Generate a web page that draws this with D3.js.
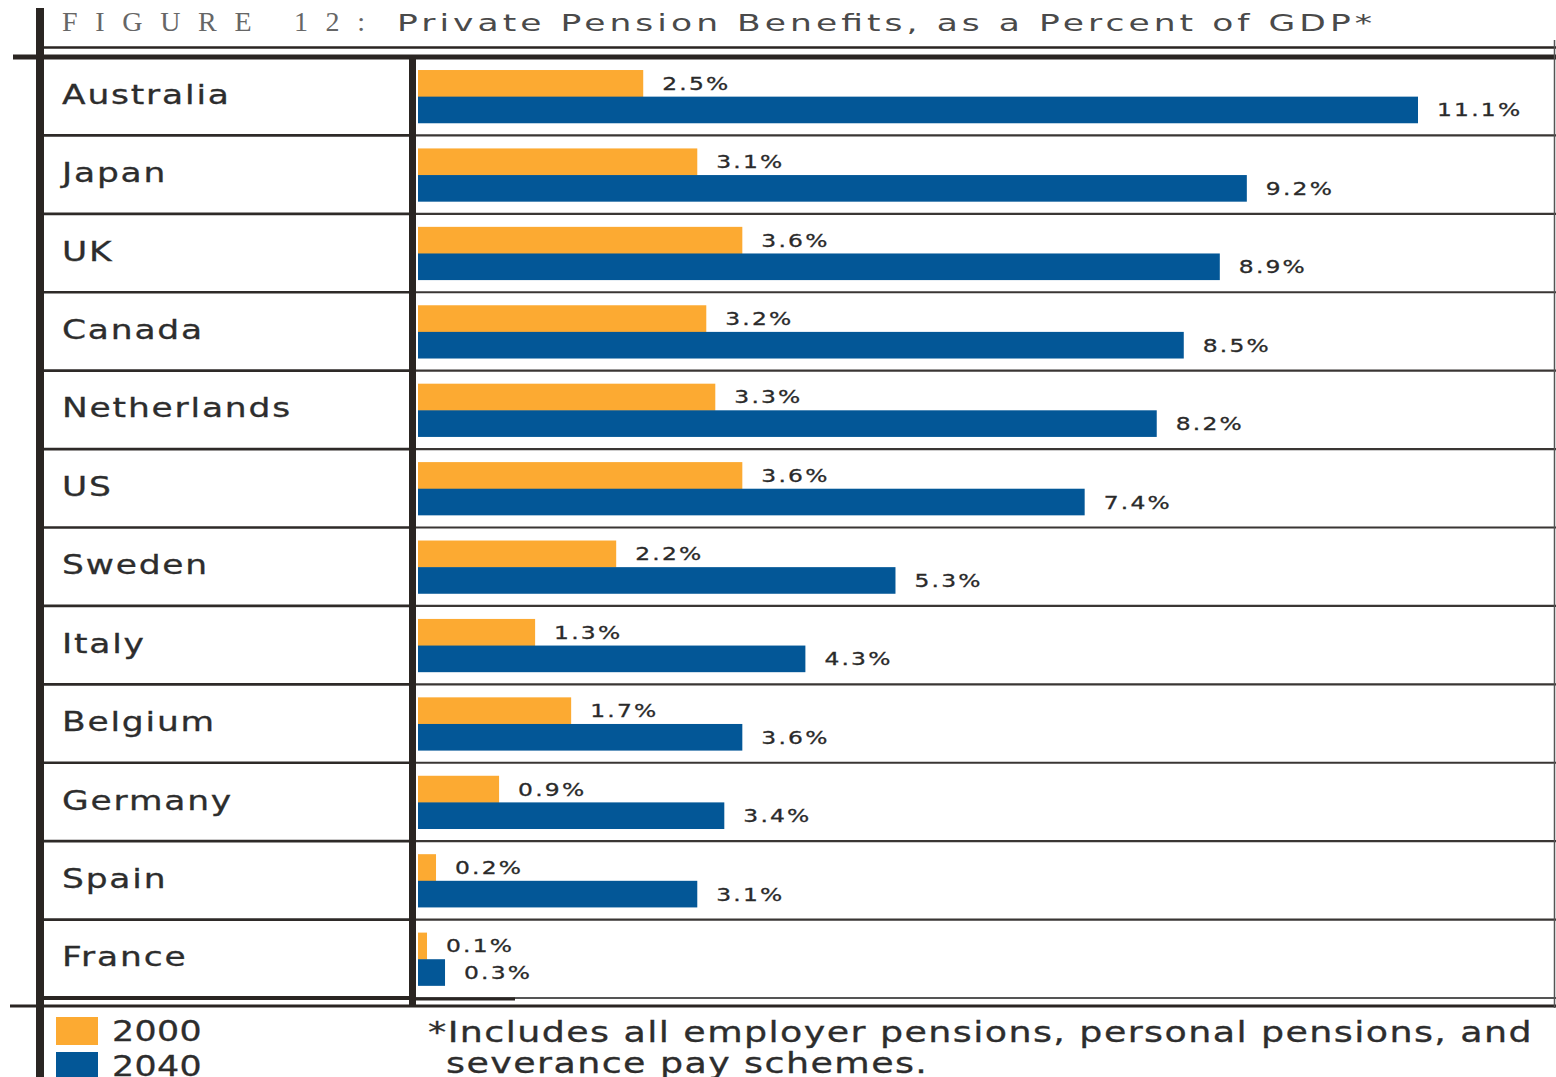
<!DOCTYPE html>
<html><head><meta charset="utf-8">
<script src="https://cdn.jsdelivr.net/npm/d3@7"></script>
<style>html,body{margin:0;padding:0;background:#fff;}svg{display:block;}</style>
</head><body>
<script>
const countries = ["Australia","Japan","UK","Canada","Netherlands","US","Sweden","Italy","Belgium","Germany","Spain","France"];
const values2000 = [2.5,3.1,3.6,3.2,3.3,3.6,2.2,1.3,1.7,0.9,0.2,0.1];
const values2040 = [11.1,9.2,8.9,8.5,8.2,7.4,5.3,4.3,3.6,3.4,3.1,0.3];
const seriesNames = ["2000","2040"];
const seriesColors = ["#FCAA32","#035797"];
const titleLead = "FIGURE 12:";
const titleText = "Private Pension Benefits, as a Percent of GDP*";
const footnote = ["*Includes all employer pensions, personal pensions, and","severance pay schemes."];

const W = 1556, H = 1077;
const ink = "#2a2522";
const SX = 1.3; // horizontal stretch of the lettering
const svg = d3.select("body").append("svg").attr("width", W).attr("height", H);

const tableTop = 57, tableBottom = 998;
const y = d3.scaleBand().domain(countries).range([tableTop, tableBottom]).paddingInner(0).paddingOuter(0);
const x = d3.scaleLinear().domain([0, 11.1]).range([418, 1418]);
const rowH = y.bandwidth();
const inner = d3.scaleBand().domain(seriesNames).range([0.166*rowH, 0.845*rowH]).padding(0);

// row separator lines
const seps = countries.slice(1);
const sepG = svg.append("g");
sepG.selectAll("line.a").data(seps).join("line").attr("class","a")
  .attr("x1", 44).attr("x2", 410).attr("y1", d => y(d)).attr("y2", d => y(d))
  .attr("stroke", "#2e2a28").attr("stroke-width", 2.6);
sepG.selectAll("line.b").data(seps).join("line").attr("class","b")
  .attr("x1", 410).attr("x2", W).attr("y1", d => y(d)).attr("y2", d => y(d))
  .attr("stroke", "#3a3634").attr("stroke-width", 2.2);

// bars
const rows = svg.append("g").selectAll("g").data(countries).join("g")
  .attr("transform", d => `translate(0,${y(d)})`);
const series = [values2000, values2040];
seriesNames.forEach((s, si) => {
  rows.append("rect")
    .attr("x", x(0))
    .attr("y", inner(s))
    .attr("width", (d,i) => x(series[si][i]) - x(0))
    .attr("height", inner.bandwidth() + (si===0?0.5:0))
    .attr("fill", seriesColors[si]);
  rows.append("text")
    .attr("transform", (d,i) => `translate(${x(series[si][i]) + 19},${inner(s) + inner.bandwidth()/2}) scale(${SX},1)`)
    .attr("dy", "0.36em")
    .attr("font-family", "DejaVu Sans, sans-serif")
    .attr("font-size", 18)
    .attr("letter-spacing", 1.7)
    .attr("fill", "#2a2a2a")
    .attr("stroke", "#2a2a2a").attr("stroke-width", 0.3)
    .text((d,i) => series[si][i].toFixed(1) + "%");
});

// country labels
rows.append("text")
  .attr("transform", `translate(62,${rowH/2 - 2}) scale(${SX},1)`)
  .attr("dy", "0.36em")
  .attr("font-family", "DejaVu Sans, sans-serif")
  .attr("font-size", 26.5)
  .attr("letter-spacing", 1.4)
  .attr("fill", "#2d2d2d")
  .attr("stroke", "#2d2d2d").attr("stroke-width", 0.3)
  .text(d => d);

// frame lines
svg.append("line").attr("x1", 44).attr("x2", W).attr("y1", 47.5).attr("y2", 47.5).attr("stroke", ink).attr("stroke-width", 2.5);
svg.append("line").attr("x1", 13).attr("x2", W).attr("y1", 57).attr("y2", 57).attr("stroke", ink).attr("stroke-width", 5);
svg.append("line").attr("x1", 44).attr("x2", 410).attr("y1", 998).attr("y2", 998).attr("stroke", ink).attr("stroke-width", 4);
svg.append("line").attr("x1", 410).attr("x2", W).attr("y1", 998).attr("y2", 998).attr("stroke", "#555").attr("stroke-width", 2);
svg.append("line").attr("x1", 410).attr("x2", 515).attr("y1", 999).attr("y2", 999).attr("stroke", ink).attr("stroke-width", 3);
svg.append("line").attr("x1", 10).attr("x2", W).attr("y1", 1006).attr("y2", 1006).attr("stroke", ink).attr("stroke-width", 3);
svg.append("line").attr("x1", 40).attr("x2", 40).attr("y1", 8).attr("y2", H).attr("stroke", ink).attr("stroke-width", 8);
svg.append("line").attr("x1", 412.5).attr("x2", 412.5).attr("y1", 57).attr("y2", 1006).attr("stroke", ink).attr("stroke-width", 7);
svg.append("line").attr("x1", 1554.5).attr("x2", 1554.5).attr("y1", 40).attr("y2", 1008).attr("stroke", "#555").attr("stroke-width", 1.5);

// title
svg.append("text").attr("x", 62).attr("y", 31).attr("fill", "#666")
  .attr("font-family", "Liberation Serif, serif").attr("font-size", 28)
  .attr("textLength", 303).attr("lengthAdjust", "spacing")
  .text(titleLead);
const TSX = 1.5;
svg.append("text").attr("transform", `translate(397,31) scale(${TSX},1)`).attr("fill", "#4a4a4a")
  .attr("font-family", "DejaVu Sans, sans-serif").attr("font-size", 23)
  .attr("textLength", 975 / TSX).attr("lengthAdjust", "spacing")
  .text(titleText);

// legend
const leg = svg.append("g").selectAll("g").data(seriesNames).join("g")
  .attr("transform", (d,i) => `translate(56,${1017 + i*35})`);
leg.append("rect").attr("width", 42).attr("height", 28).attr("fill", (d,i) => seriesColors[i]);
leg.append("text").attr("transform", `translate(56,14) scale(1.2,1)`).attr("dy", "0.36em")
  .attr("font-family", "DejaVu Sans, sans-serif").attr("font-size", 29).attr("letter-spacing", 0.3)
  .attr("fill", "#2d2d2d").attr("stroke", "#2d2d2d").attr("stroke-width", 0.3).text(d => d);

// footnote
svg.append("g").selectAll("text").data(footnote).join("text")
  .attr("transform", (d,i) => `translate(${i===0 ? 428 : 446},${1042 + i*31}) scale(${SX},1)`)
  .attr("font-family", "DejaVu Sans, sans-serif").attr("font-size", 28).attr("letter-spacing", 1.1)
  .attr("fill", "#2d2d2d").attr("stroke", "#2d2d2d").attr("stroke-width", 0.3).text(d => d);
</script>
</body></html>
